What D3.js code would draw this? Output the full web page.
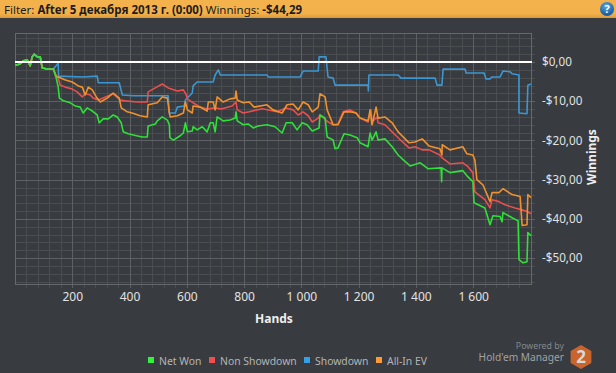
<!DOCTYPE html>
<html>
<head>
<meta charset="utf-8">
<script src="https://cdn.jsdelivr.net/npm/d3@7"></script>
<style>
html, body { margin: 0; padding: 0; background: #383b3f; overflow: hidden; }
text { font-family: "Noto Sans", sans-serif; }
</style>
</head>
<body>
<svg id="chart" width="616" height="373"></svg>
<script>
// values: [hand, dollars]
const start = [[1,-.8],[18,-.5],[29,.3],[43,.5],[53,-1],[60,1.3],[67,2],[78,1.3],[88,1.3],[95,-1.5],[113,-1.8],[134,-1.8]];

const netWon = start.concat([[144,-4.1],[151,-6.4],[155,-9.2],[169,-9.9],[193,-10.4],[210,-11.2],[228,-11.5],[238,-13],[252,-11.7],[270,-12.5],[287,-13.5],[294,-15.5],[308,-14.5],[326,-14.5],[343,-13.5],[357,-14],[371,-15.5],[378,-17.8],[395,-18.3],[413,-18.6],[444,-19.1],[462,-19.1],[465,-16.3],[490,-15.8],[497,-15],[514,-14],[532,-14.8],[539,-16],[541,-19.3],[553,-19.9],[577,-18.8],[588,-18.1],[595,-15.5],[602,-17.8],[619,-17.6],[622,-16.5],[636,-17.3],[654,-16.5],[671,-17.8],[682,-15.5],[692,-15.5],[699,-17.8],[706,-14],[727,-15],[751,-14.8],[769,-14.3],[772,-12.7],[776,-15],[797,-16],[814,-15.8],[832,-16.8],[849,-16.3],[880,-16],[908,-16.5],[933,-18.1],[947,-15.5],[968,-15.5],[985,-17.3],[1003,-15.5],[1020,-16],[1038,-17.6],[1062,-16.8],[1065,-13.5],[1083,-14.3],[1090,-19.1],[1111,-19.9],[1118,-22.1],[1128,-21.9],[1149,-18.3],[1170,-18.6],[1195,-19.3],[1205,-20.6],[1233,-21.6],[1240,-18.1],[1247,-19.9],[1261,-17.8],[1268,-19.9],[1292,-19.6],[1317,-21.6],[1338,-23.7],[1355,-24.9],[1380,-26.5],[1415,-25.7],[1442,-27.2],[1488,-27],[1490,-30.5],[1491,-27],[1519,-28.2],[1564,-27.7],[1582,-29.3],[1599,-30.5],[1603,-35.9],[1641,-37.2],[1659,-41.5],[1669,-39.2],[1694,-39.4],[1701,-40.7],[1704,-38.4],[1736,-39.7],[1757,-40.5],[1760,-50.4],[1774,-51.2],[1788,-50.9],[1791,-43.5],[1802,-44.29]]);

const nonShowdown = start.concat([[144,-3.8],[151,-4.1],[158,-5.9],[176,-6.4],[200,-6.9],[217,-7.6],[235,-8.9],[245,-8.1],[263,-8.4],[273,-9.2],[291,-9.7],[308,-9.2],[343,-8.1],[368,-9.7],[385,-9.9],[427,-10.2],[462,-10.2],[465,-7.6],[490,-6.6],[514,-5.6],[535,-6.6],[567,-7.4],[588,-7.1],[598,-8.4],[602,-9.4],[622,-10.4],[647,-11.5],[671,-12],[699,-11.7],[720,-12],[758,-11.2],[772,-10.2],[776,-12.2],[797,-13],[818,-12.7],[863,-11.9],[915,-12.7],[947,-11.7],[971,-12.2],[989,-13.5],[1006,-12.7],[1024,-13.7],[1038,-15.3],[1059,-14.3],[1065,-13.5],[1094,-15.3],[1111,-16],[1128,-15.8],[1146,-12.7],[1170,-12.2],[1191,-13],[1205,-14.3],[1233,-15.3],[1243,-12.2],[1247,-15.3],[1264,-14],[1268,-15.5],[1292,-16],[1317,-17.8],[1338,-19.3],[1376,-21.9],[1397,-21.6],[1422,-22.4],[1446,-22.4],[1484,-23.7],[1491,-24.4],[1519,-26],[1564,-25.7],[1582,-26.7],[1599,-28.2],[1606,-33.1],[1641,-35.1],[1659,-37.2],[1666,-35.1],[1690,-35.6],[1711,-36.4],[1746,-37.2],[1771,-37.7],[1791,-38.2],[1802,-38.7]]);

const showdown = start.concat([[151,-.3],[152,-3.6],[238,-3.8],[287,-3.6],[291,-5.3],[364,-5.3],[375,-8.4],[413,-8.6],[535,-8.6],[539,-13],[560,-13],[567,-11.5],[591,-11.2],[595,-9.7],[619,-7.9],[622,-6.1],[636,-5.1],[692,-5.1],[699,-3.3],[710,-2],[717,-3.3],[880,-3.3],[884,-3.8],[996,-3.8],[1006,-2.3],[1059,-2.3],[1062,1.3],[1086,1.3],[1093,-3.8],[1111,-4.1],[1118,-5.9],[1233,-5.9],[1234,-7.4],[1236,-3.3],[1338,-3.3],[1348,-4.1],[1467,-4.1],[1474,-5.9],[1491,-5.9],[1495,-1.8],[1572,-1.8],[1575,-2.8],[1638,-2.8],[1645,-4.3],[1659,-4.3],[1666,-3.8],[1694,-3.8],[1704,-2.3],[1729,-2.5],[1736,-3],[1760,-3.3],[1760,-13],[1788,-13.2],[1791,-5.9],[1802,-5.6]]);

const allInEV = start.concat([[144,-3.6],[151,-3.8],[176,-4.6],[200,-5.1],[221,-6.1],[235,-6.4],[245,-8.4],[256,-6.4],[270,-7.1],[284,-8.9],[298,-10.2],[322,-9.2],[343,-7.9],[364,-9.2],[371,-11.7],[392,-12.7],[409,-13],[437,-13.7],[462,-14],[465,-10.9],[497,-10.4],[514,-8.9],[532,-9.2],[539,-13],[542,-14],[567,-13.7],[588,-13],[595,-10.2],[602,-12.2],[619,-13],[622,-11.2],[647,-11.5],[671,-12.5],[675,-10.2],[692,-10.2],[699,-12.2],[706,-8.9],[727,-10.2],[751,-9.4],[769,-9.2],[772,-7.4],[776,-9.7],[797,-10.4],[818,-10.2],[835,-11.5],[880,-10.9],[901,-12.2],[933,-13],[950,-10.9],[971,-10.7],[989,-12.2],[1006,-10.2],[1024,-10.9],[1038,-12.7],[1059,-11.5],[1065,-8.1],[1083,-8.9],[1090,-12.2],[1111,-16],[1128,-16],[1149,-12.7],[1170,-12.7],[1191,-13],[1205,-14.3],[1233,-15],[1240,-12.2],[1247,-16],[1261,-11.5],[1268,-14.3],[1292,-14],[1317,-15.5],[1338,-17.8],[1376,-20.6],[1397,-20.4],[1422,-19.6],[1446,-21.4],[1484,-22.1],[1491,-23.7],[1492,-21.1],[1519,-22.4],[1564,-21.6],[1578,-23.4],[1599,-23.7],[1606,-25],[1613,-30],[1634,-31.3],[1659,-35.6],[1666,-33.3],[1690,-33.3],[1704,-32.3],[1736,-33.8],[1764,-34.3],[1771,-41.7],[1788,-41.5],[1791,-33.8],[1802,-34.6]]);

const series = [
  { name: "Showdown", color: "#3b97d3", values: showdown },
  { name: "Non Showdown", color: "#e8504f", values: nonShowdown },
  { name: "All-In EV", color: "#f0912f", values: allInEV },
  { name: "Net Won", color: "#2fe03a", values: netWon }
];

const legendItems = [
  { name: "Net Won", color: "#33f03f", sx: 148, tx: 159 },
  { name: "Non Showdown", color: "#f04f4f", sx: 209, tx: 220 },
  { name: "Showdown", color: "#33a0e8", sx: 304, tx: 315 },
  { name: "All-In EV", color: "#ff9a33", sx: 376, tx: 387 }
];

const xMajor = [200, 400, 600, 800, 1000, 1200, 1400, 1600];
const yMajor = [0, -10, -20, -30, -40, -50];
const xMinor = d3.range(40, 1800, 40);
const yMinor = d3.range(6, -57, -2);

const svg = d3.select("#chart");
const plotLeft = 15, plotRight = 531, plotTop = 33, plotBottom = 284;

const x = d3.scaleLinear().domain([0, 1802]).range([plotLeft, plotRight]);
const y = d3.scaleLinear().domain([7.4, -56.6]).range([plotTop, plotBottom]);

// header bar
const defs = svg.append("defs");
const grad = defs.append("linearGradient").attr("id", "head").attr("x1", 0).attr("x2", 0).attr("y1", 0).attr("y2", 1);
grad.append("stop").attr("offset", "0%").attr("stop-color", "#f4b24d");
grad.append("stop").attr("offset", "75%").attr("stop-color", "#f3b14b");
grad.append("stop").attr("offset", "100%").attr("stop-color", "#d99a3c");
const ball = defs.append("radialGradient").attr("id", "ball").attr("cx", "45%").attr("cy", "30%").attr("r", "75%");
ball.append("stop").attr("offset", "0%").attr("stop-color", "#5aa6e0");
ball.append("stop").attr("offset", "100%").attr("stop-color", "#0d4f94");

svg.append("rect").attr("width", 616).attr("height", 18).attr("fill", "url(#head)");
const head = svg.append("text").attr("x", 4).attr("y", 14).attr("font-size", 11.5).attr("fill", "#1c1c1c");
head.append("tspan").text("Filter: ");
head.append("tspan").attr("font-weight", "bold").text("After 5 декабря 2013 г. (0:00) ");
head.append("tspan").text("Winnings: ");
head.append("tspan").attr("font-weight", "bold").text("-$44,29");

svg.append("circle").attr("cx", 607).attr("cy", 9).attr("r", 7).attr("fill", "url(#ball)");
svg.append("text").attr("x", 607).attr("y", 13).attr("text-anchor", "middle")
  .attr("font-size", 11).attr("font-weight", "bold").attr("fill", "#fff").text("?");

// grid: the minor and major tick lines run across the whole plot and stick out a bit
function grid(axis, tx, ty, color, horizontal) {
  const g = svg.append("g").attr("transform", `translate(${tx},${ty})`).call(axis);
  g.select(".domain").remove();
  g.selectAll("text").remove();
  g.selectAll("line").attr("stroke", color).attr("stroke-width", 1)
    .attr(horizontal ? "x1" : "y1", horizontal ? -(plotRight - plotLeft) : -(plotBottom - plotTop))
    .attr(horizontal ? "x2" : "y2", 4);
  g.attr("shape-rendering", "crispEdges");
}
grid(d3.axisBottom(x).tickValues(xMinor).tickSizeOuter(0), 0, plotBottom, "#4b4e51", false);
grid(d3.axisRight(y).tickValues(yMinor).tickSizeOuter(0), plotRight, 0, "#4b4e51", true);
grid(d3.axisBottom(x).tickValues(xMajor).tickSizeOuter(0), 0, plotBottom, "#5e6164", false);
grid(d3.axisRight(y).tickValues(yMajor).tickSizeOuter(0), plotRight, 0, "#5e6164", true);

svg.append("rect").attr("x", plotLeft).attr("y", plotTop).attr("width", plotRight - plotLeft).attr("height", plotBottom - plotTop)
  .attr("fill", "none").attr("stroke", "#66696c").attr("shape-rendering", "crispEdges");

// lines
const line = d3.line().x(d => x(d[0])).y(d => y(d[1]));
svg.selectAll(".series").data(series).join("path")
  .attr("class", "series")
  .attr("d", d => line(d.values))
  .attr("fill", "none")
  .attr("stroke", d => d.color)
  .attr("stroke-width", 1.6)
  .attr("stroke-linejoin", "round");

svg.append("line").attr("x1", x(0)).attr("x2", plotRight + 1).attr("y1", y(0)).attr("y2", y(0))
  .attr("stroke", "#fff").attr("stroke-width", 2);

// tick labels
const fmtX = d => d >= 1000 ? `${Math.floor(d / 1000)} ${String(d % 1000).padStart(3, "0")}` : String(d);
const fmtY = d => (d < 0 ? "-" : "") + "$" + Math.abs(d).toFixed(2).replace(".", ",");

const xLabels = svg.append("g").attr("transform", `translate(0,${plotBottom})`)
  .call(d3.axisBottom(x).tickValues(xMajor).tickFormat(fmtX).tickSize(0).tickPadding(8));
xLabels.select(".domain").remove();
xLabels.selectAll("text").attr("font-size", 12).attr("fill", "#e2e2e2").style("font-family", '"Noto Sans", sans-serif');

const yLabels = svg.append("g").attr("transform", `translate(${plotRight},0)`)
  .call(d3.axisRight(y).tickValues(yMajor).tickFormat(fmtY).tickSize(0).tickPadding(11));
yLabels.select(".domain").remove();
yLabels.selectAll("text").attr("font-size", 11.7).attr("fill", "#e2e2e2").style("font-family", '"Noto Sans", sans-serif');

svg.append("text").attr("x", 274).attr("y", 323).attr("text-anchor", "middle")
  .attr("font-size", 12).attr("font-weight", "bold").attr("fill", "#eee").text("Hands");
svg.append("text").attr("transform", "translate(596,157) rotate(-90)").attr("text-anchor", "middle")
  .attr("font-size", 12).attr("font-weight", "bold").attr("fill", "#eee").text("Winnings");

// legend
const lg = svg.selectAll(".lg").data(legendItems).join("g").attr("class", "lg");
lg.append("rect").attr("x", d => d.sx).attr("y", 357).attr("width", 6).attr("height", 6).attr("fill", d => d.color);
lg.append("text").attr("x", d => d.tx).attr("y", 365).attr("font-size", 10.4).attr("fill", "#b5b5b5").text(d => d.name);

// powered by
svg.append("text").attr("x", 564).attr("y", 349).attr("text-anchor", "end").attr("font-size", 8.8).attr("fill", "#85888a").text("Powered by");
svg.append("text").attr("x", 564).attr("y", 361).attr("text-anchor", "end").attr("font-size", 10.2).attr("fill", "#a0a2a4").text("Hold'em Manager");
const hexR = 12;
const hex = d3.range(6).map(i => {
  const a = Math.PI / 3 * i - Math.PI / 2;
  return [581 + hexR * Math.cos(a), 357 + hexR * Math.sin(a)];
});
svg.append("path").attr("d", d3.line()(hex) + "Z").attr("fill", "#c9652c");
svg.append("text").attr("x", 581).attr("y", 363).attr("text-anchor", "middle")
  .attr("font-size", 17).attr("font-weight", "bold").attr("fill", "#d8d8d8").text("2");
</script>
</body>
</html>
